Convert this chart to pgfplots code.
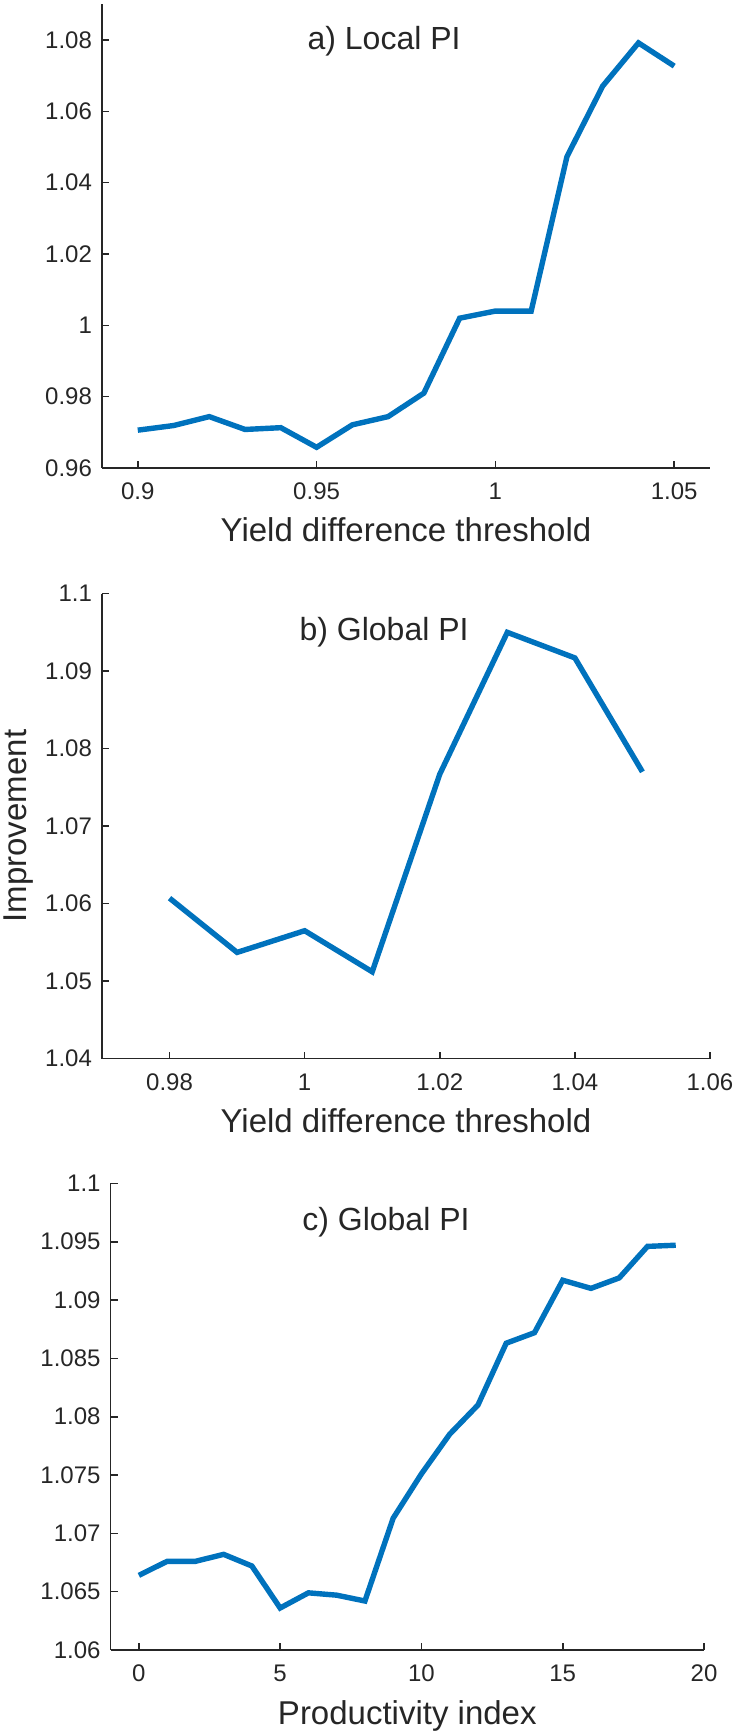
\documentclass[border=0pt]{standalone}
\usepackage{fontspec}
\setmainfont{Liberation Sans}
\usepackage{pgfplots}
\pgfplotsset{compat=1.18}
\definecolor{mblue}{rgb}{0,0.447,0.741}
\definecolor{axgray}{rgb}{0.15,0.15,0.15}

\pgfplotsset{
  myax/.style={
    scale only axis,
    axis lines*=left,
    axis line style={-, axgray, line width=0.8pt},
    tick align=inside,
    major tick length=3.5pt,
    tick style={axgray, line width=0.8pt},
    every tick label/.append style={font=\fontsize{12}{14}\selectfont, text=axgray},
    /pgf/number format/assume math mode=true,
    /pgf/number format/fixed,
    /pgf/number format/precision=3,
    scaled ticks=false,
    yticklabel style={xshift=-1.5pt},
    xticklabel style={yshift=-4pt},
    label style={font=\fontsize{16.5}{19}\selectfont, text=axgray},
    xlabel style={at={(axis description cs:0.5,0)}, anchor=base, yshift=-37pt},
    clip=false,
  },
  mline/.style={mblue, line width=2.7pt, mark=none},
}

\pgfplotstableread{
x y
0.90 0.9706
0.91 0.9719
0.92 0.9744
0.93 0.9708
0.94 0.9713
0.95 0.9658
0.96 0.9721
0.97 0.9744
0.98 0.9810
0.99 1.0020
1.00 1.0040
1.01 1.0040
1.02 1.0473
1.03 1.0671
1.04 1.0792
1.05 1.0727
}\tabA

\pgfplotstableread{
x y
0.98 1.0607
0.99 1.0537
1.00 1.0565
1.01 1.0512
1.02 1.0767
1.03 1.0950
1.04 1.0917
1.05 1.0770
}\tabB

\pgfplotstableread{
x y
0 1.0664
1 1.0676
2 1.0676
3 1.0682
4 1.0672
5 1.0636
6 1.0649
7 1.0647
8 1.0642
9 1.0713
10 1.0751
11 1.0785
12 1.0810
13 1.0863
14 1.0872
15 1.0917
16 1.0910
17 1.0919
18 1.0946
19 1.0947
}\tabC

\begin{document}
\begin{tikzpicture}
% Panel a
\begin{axis}[myax,
  at={(51pt,632.5pt)}, anchor=south west,
  width=304pt, height=231.8pt,
  xmin=0.89, xmax=1.06, ymin=0.96, ymax=1.09,
  xtick={0.9,0.95,1,1.05},
  ytick={0.96,0.98,1,1.02,1.04,1.06,1.08},
  xlabel={Yield difference threshold},
]
\addplot[mline] table[x=x,y=y] {\tabA};
\node[font=\fontsize{16}{19}\selectfont, text=axgray] at (rel axis cs:0.464,0.92) {a) Local PI};
\end{axis}
% Panel b
\begin{axis}[myax,
  at={(51pt,337.2pt)}, anchor=south west,
  width=304pt, height=232.5pt,
  xmin=0.97, xmax=1.06, ymin=1.04, ymax=1.1,
  xtick={0.98,1,1.02,1.04,1.06},
  ytick={1.04,1.05,1.06,1.07,1.08,1.09,1.1},
  xlabel={Yield difference threshold},
  ylabel={Improvement},
  ylabel style={at={(axis description cs:-0.125,0.5)}, anchor=base, rotate=0},
]
\addplot[mline] table[x=x,y=y] {\tabB};
\node[font=\fontsize{16}{19}\selectfont, text=axgray] at (rel axis cs:0.464,0.917) {b) Global PI};
\end{axis}
% Panel c
\begin{axis}[myax,
  at={(55.3pt,41.5pt)}, anchor=south west,
  width=296.7pt, height=233.3pt,
  xmin=-1, xmax=20, ymin=1.06, ymax=1.1,
  xtick={0,5,10,15,20},
  ytick={1.06,1.065,1.07,1.075,1.08,1.085,1.09,1.095,1.1},
  xlabel={Productivity index},
]
\addplot[mline] table[x=x,y=y] {\tabC};
\node[font=\fontsize{16}{19}\selectfont, text=axgray] at (rel axis cs:0.464,0.916) {c) Global PI};
\end{axis}
\pgfresetboundingbox
\useasboundingbox (0,0) rectangle (368.5pt,866.5pt);
\end{tikzpicture}
\end{document}
